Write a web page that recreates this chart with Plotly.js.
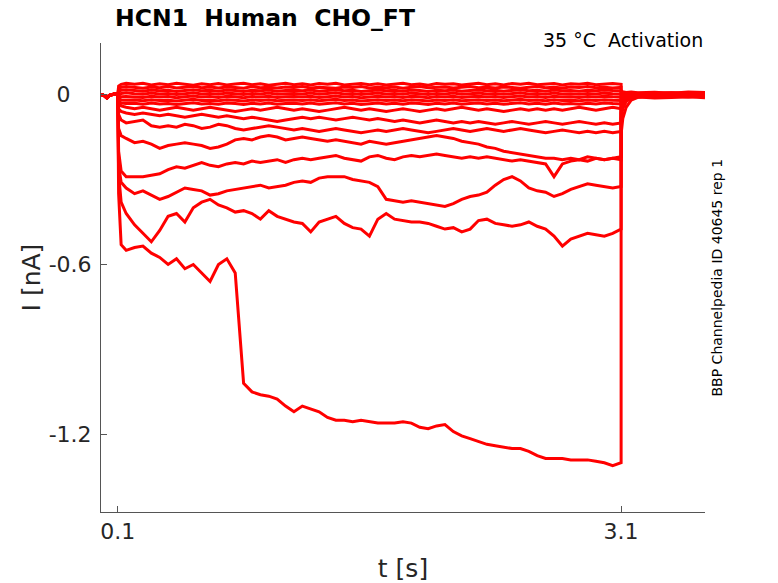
<!DOCTYPE html>
<html>
<head>
<meta charset="utf-8">
<script src="https://cdn.plot.ly/plotly-3.0.1.min.js"></script>
<style>
  html, body { margin: 0; padding: 0; background: #fff; }
  #graph { width: 778px; height: 583px; }
</style>
</head>
<body>
<div id="graph"></div>
<script>
// Time grids (s): holding before the step, the step itself, and the return
const tPre = [0, 0.02, 0.035, 0.05, 0.08, 0.1];
const tStep = [0.1, 0.105, 0.12, 0.15,
    0.2, 0.25, 0.3, 0.35, 0.4, 0.45, 0.5, 0.55, 0.6, 0.65,
    0.7, 0.75, 0.8, 0.85, 0.9, 0.95, 1.0, 1.05, 1.1, 1.15,
    1.2, 1.25, 1.3, 1.35, 1.4, 1.45, 1.5, 1.55, 1.6, 1.65,
    1.7, 1.75, 1.8, 1.85, 1.9, 1.95, 2.0, 2.05, 2.1, 2.15,
    2.2, 2.25, 2.3, 2.35, 2.4, 2.45, 2.5, 2.55, 2.6, 2.65,
    2.7, 2.75, 2.8, 2.85, 2.9, 2.95, 3.0, 3.05, 3.1];
const tPost = [3.1, 3.11, 3.13, 3.16, 3.2, 3.3, 3.4, 3.5, 3.6];

// Holding current (nA), shared by all sweeps
const iBase = [0, -0.004, -0.012, -0.003, 0.002, 0];

// Current during the step (nA), one array per sweep
const stepH1 = [0, 0.03, 0.036, 0.04,
    0.036, 0.04, 0.034, 0.038, 0.035, 0.04, 0.036, 0.033, 0.038, 0.035,
    0.039, 0.034, 0.037, 0.04, 0.035, 0.038, 0.033, 0.037, 0.04, 0.035,
    0.038, 0.034, 0.039, 0.036, 0.04, 0.034, 0.037, 0.039, 0.035, 0.038,
    0.034, 0.038, 0.04, 0.035, 0.037, 0.033, 0.039, 0.036, 0.038, 0.034,
    0.037, 0.04, 0.035, 0.038, 0.034, 0.039, 0.036, 0.04, 0.035, 0.037,
    0.039, 0.034, 0.038, 0.036, 0.04, 0.035, 0.037, 0.039, 0.036];
const stepH2 = [0, 0.02, 0.026, 0.028,
    0.025, 0.022, 0.027, 0.024, 0.028, 0.023, 0.026, 0.029, 0.024, 0.027,
    0.023, 0.027, 0.025, 0.022, 0.028, 0.024, 0.026, 0.023, 0.027, 0.025,
    0.028, 0.023, 0.026, 0.024, 0.022, 0.027, 0.025, 0.028, 0.023, 0.026,
    0.024, 0.027, 0.022, 0.026, 0.028, 0.024, 0.025, 0.027, 0.023, 0.026,
    0.028, 0.024, 0.026, 0.023, 0.027, 0.025, 0.022, 0.026, 0.028, 0.024,
    0.026, 0.023, 0.027, 0.025, 0.028, 0.024, 0.026, 0.023, 0.025];
const stepH3 = [0, 0.01, 0.015, 0.017,
    0.014, 0.012, 0.016, 0.013, 0.015, 0.011, 0.014, 0.017, 0.013, 0.015,
    0.012, 0.016, 0.014, 0.011, 0.015, 0.013, 0.016, 0.012, 0.014, 0.015,
    0.013, 0.016, 0.012, 0.014, 0.017, 0.013, 0.015, 0.011, 0.014, 0.016,
    0.013, 0.015, 0.012, 0.016, 0.014, 0.011, 0.015, 0.013, 0.016, 0.012,
    0.014, 0.016, 0.013, 0.015, 0.012, 0.014, 0.017, 0.013, 0.015, 0.012,
    0.016, 0.013, 0.014, 0.012, 0.015, 0.013, 0.016, 0.014, 0.013];
const stepH4 = [0, 0.0, 0.004, 0.006,
    0.003, 0.001, 0.005, 0.002, 0.004, 0.0, 0.003, 0.006, 0.002, 0.004,
    0.001, 0.005, 0.003, 0.0, 0.004, 0.002, 0.005, 0.001, 0.003, 0.004,
    0.002, 0.005, 0.001, 0.003, 0.006, 0.002, 0.004, 0.0, 0.003, 0.005,
    0.002, 0.004, 0.001, 0.005, 0.003, 0.0, 0.004, 0.002, 0.005, 0.001,
    0.003, 0.005, 0.002, 0.004, 0.001, 0.003, 0.006, 0.002, 0.004, 0.001,
    0.005, 0.002, 0.003, 0.001, 0.004, 0.002, 0.005, 0.003, 0.002];
const stepH5 = [0, -0.006, -0.008, -0.007,
    -0.008, -0.01, -0.006, -0.009, -0.007, -0.011, -0.008, -0.005, -0.009, -0.007,
    -0.01, -0.006, -0.008, -0.011, -0.007, -0.009, -0.006, -0.01, -0.008, -0.007,
    -0.009, -0.006, -0.01, -0.008, -0.005, -0.009, -0.007, -0.011, -0.008, -0.006,
    -0.009, -0.007, -0.01, -0.006, -0.008, -0.011, -0.007, -0.009, -0.006, -0.01,
    -0.008, -0.006, -0.009, -0.007, -0.01, -0.008, -0.005, -0.009, -0.007, -0.01,
    -0.006, -0.009, -0.008, -0.01, -0.007, -0.009, -0.006, -0.008, -0.009];
const stepH6 = [0, -0.014, -0.019, -0.02,
    -0.019, -0.022, -0.018, -0.021, -0.02, -0.023, -0.019, -0.017, -0.021, -0.02,
    -0.022, -0.018, -0.02, -0.023, -0.019, -0.021, -0.018, -0.022, -0.02, -0.019,
    -0.021, -0.018, -0.022, -0.02, -0.017, -0.021, -0.019, -0.023, -0.02, -0.018,
    -0.021, -0.019, -0.022, -0.018, -0.02, -0.023, -0.019, -0.021, -0.018, -0.022,
    -0.02, -0.018, -0.021, -0.019, -0.022, -0.02, -0.017, -0.021, -0.019, -0.022,
    -0.018, -0.021, -0.02, -0.022, -0.019, -0.021, -0.018, -0.02, -0.021];
const stepH7 = [0, -0.022, -0.03, -0.032,
    -0.031, -0.034, -0.03, -0.033, -0.032, -0.035, -0.031, -0.029, -0.033, -0.032,
    -0.034, -0.03, -0.032, -0.035, -0.031, -0.033, -0.03, -0.034, -0.032, -0.031,
    -0.033, -0.03, -0.034, -0.032, -0.029, -0.033, -0.031, -0.035, -0.032, -0.03,
    -0.033, -0.031, -0.034, -0.03, -0.032, -0.035, -0.031, -0.033, -0.03, -0.034,
    -0.032, -0.03, -0.033, -0.031, -0.034, -0.032, -0.029, -0.033, -0.031, -0.034,
    -0.03, -0.033, -0.032, -0.034, -0.031, -0.033, -0.03, -0.032, -0.033];
const stepG = [0, -0.03, -0.04, -0.045,
    -0.05, -0.045, -0.05, -0.055, -0.05, -0.045, -0.05, -0.055, -0.05, -0.045,
    -0.05, -0.055, -0.06, -0.055, -0.05, -0.055, -0.05, -0.045, -0.05, -0.055,
    -0.05, -0.055, -0.06, -0.055, -0.05, -0.045, -0.05, -0.055, -0.05, -0.055,
    -0.06, -0.055, -0.05, -0.055, -0.06, -0.055, -0.05, -0.055, -0.05, -0.045,
    -0.05, -0.055, -0.05, -0.055, -0.06, -0.055, -0.05, -0.055, -0.05, -0.055,
    -0.05, -0.055, -0.05, -0.045, -0.05, -0.055, -0.05, -0.045, -0.05];
const stepF = [0, -0.05, -0.06, -0.065,
    -0.07, -0.065, -0.07, -0.075, -0.07, -0.075, -0.08, -0.075, -0.07, -0.075,
    -0.08, -0.075, -0.08, -0.085, -0.08, -0.085, -0.09, -0.095, -0.09, -0.085,
    -0.08, -0.085, -0.08, -0.085, -0.09, -0.085, -0.08, -0.085, -0.09, -0.085,
    -0.09, -0.095, -0.09, -0.095, -0.1, -0.095, -0.09, -0.095, -0.1, -0.095,
    -0.1, -0.095, -0.1, -0.105, -0.1, -0.095, -0.1, -0.105, -0.1, -0.095,
    -0.1, -0.105, -0.1, -0.095, -0.1, -0.105, -0.1, -0.105, -0.1];
const stepE = [0, -0.07, -0.09, -0.1,
    -0.095, -0.09, -0.11, -0.115, -0.11, -0.115, -0.105, -0.11, -0.12, -0.115,
    -0.105, -0.11, -0.12, -0.125, -0.12, -0.115, -0.11, -0.115, -0.12, -0.125,
    -0.12, -0.125, -0.13, -0.125, -0.12, -0.125, -0.13, -0.135, -0.13, -0.125,
    -0.13, -0.125, -0.12, -0.125, -0.13, -0.135, -0.13, -0.125, -0.12, -0.125,
    -0.13, -0.125, -0.12, -0.125, -0.13, -0.125, -0.12, -0.125, -0.13, -0.135,
    -0.13, -0.125, -0.13, -0.135, -0.13, -0.135, -0.13, -0.135, -0.13];
const stepD = [0, -0.12, -0.145, -0.155,
    -0.17, -0.165, -0.175, -0.19, -0.18, -0.175, -0.17, -0.175, -0.18, -0.19,
    -0.185, -0.175, -0.16, -0.155, -0.16, -0.15, -0.145, -0.15, -0.16, -0.155,
    -0.15, -0.155, -0.16, -0.165, -0.16, -0.165, -0.17, -0.175, -0.165, -0.17,
    -0.175, -0.17, -0.165, -0.16, -0.155, -0.15, -0.145, -0.15, -0.155, -0.165,
    -0.17, -0.175, -0.185, -0.19, -0.2, -0.205, -0.21, -0.215, -0.22, -0.225,
    -0.225, -0.23, -0.225, -0.23, -0.22, -0.225, -0.23, -0.225, -0.22];
const stepC = [0, -0.2, -0.27, -0.29,
    -0.29, -0.29, -0.285, -0.28, -0.265, -0.255, -0.26, -0.25, -0.24, -0.25,
    -0.255, -0.245, -0.24, -0.245, -0.235, -0.24, -0.235, -0.23, -0.24, -0.23,
    -0.225, -0.23, -0.225, -0.22, -0.215, -0.225, -0.23, -0.235, -0.22, -0.215,
    -0.225, -0.23, -0.22, -0.215, -0.22, -0.215, -0.21, -0.215, -0.22, -0.225,
    -0.22, -0.225, -0.22, -0.225, -0.23, -0.235, -0.23, -0.235, -0.24, -0.245,
    -0.29, -0.245, -0.235, -0.23, -0.235, -0.225, -0.23, -0.225, -0.23];
const stepC2 = [0, -0.25, -0.31, -0.33,
    -0.35, -0.34, -0.355, -0.37, -0.36, -0.345, -0.33, -0.335, -0.34, -0.355,
    -0.35, -0.34, -0.335, -0.33, -0.325, -0.32, -0.33, -0.325, -0.32, -0.31,
    -0.305, -0.31, -0.295, -0.29, -0.29, -0.29, -0.3, -0.305, -0.31, -0.325,
    -0.37, -0.375, -0.38, -0.375, -0.38, -0.385, -0.39, -0.395, -0.385, -0.37,
    -0.36, -0.355, -0.345, -0.32, -0.3, -0.29, -0.305, -0.33, -0.34, -0.345,
    -0.36, -0.35, -0.335, -0.325, -0.315, -0.32, -0.325, -0.33, -0.325];
const stepB = [0, -0.28, -0.38, -0.42,
    -0.46, -0.49, -0.52, -0.48, -0.43, -0.42, -0.45, -0.4, -0.38, -0.37,
    -0.39, -0.4, -0.415, -0.41, -0.42, -0.44, -0.41, -0.43, -0.44, -0.45,
    -0.455, -0.485, -0.45, -0.44, -0.43, -0.455, -0.47, -0.475, -0.5, -0.44,
    -0.42, -0.44, -0.445, -0.45, -0.45, -0.455, -0.465, -0.475, -0.47, -0.485,
    -0.475, -0.445, -0.44, -0.455, -0.46, -0.465, -0.46, -0.45, -0.465, -0.475,
    -0.5, -0.535, -0.51, -0.5, -0.49, -0.495, -0.5, -0.49, -0.475];
const stepA = [0, -0.35, -0.53, -0.55,
    -0.54, -0.535, -0.56, -0.575, -0.6, -0.58, -0.615, -0.6, -0.63, -0.66,
    -0.6, -0.58, -0.63, -1.02, -1.05, -1.06, -1.065, -1.075, -1.1, -1.12,
    -1.1, -1.11, -1.12, -1.14, -1.15, -1.15, -1.155, -1.15, -1.155, -1.16,
    -1.16, -1.16, -1.155, -1.16, -1.175, -1.18, -1.17, -1.165, -1.19, -1.205,
    -1.215, -1.225, -1.235, -1.24, -1.245, -1.25, -1.25, -1.26, -1.275, -1.285,
    -1.285, -1.285, -1.29, -1.29, -1.29, -1.295, -1.3, -1.31, -1.3];

// Current after the step (nA), tail back to holding
const postH1 = [0.008, 0.01, 0.007, 0.009, 0.006, 0.008, 0.005, 0.009, 0.007];
const postH2 = [0.005, 0.006, 0.004, 0.007, 0.003, 0.005, 0.006, 0.004, 0.005];
const postH3 = [0.002, 0.003, 0.001, 0.004, 0.002, 0.0, 0.003, 0.001, 0.002];
const postH4 = [-0.001, 0.0, -0.002, 0.001, -0.003, -0.001, 0.0, -0.002, -0.001];
const postH5 = [-0.004, -0.005, -0.003, -0.006, -0.004, -0.002, -0.005, -0.003, -0.004];
const postH6 = [-0.01, -0.008, -0.007, -0.009, -0.006, -0.008, -0.007, -0.009, -0.006];
const postH7 = [-0.016, -0.012, -0.01, -0.011, -0.009, -0.012, -0.01, -0.008, -0.011];
const postG = [-0.012, -0.006, 0.0, 0.003, 0.005, 0.003, 0.006, 0.004, 0.002];
const postF = [-0.02, -0.012, -0.005, 0.0, 0.002, 0.004, 0.001, 0.003, 0.005];
const postE = [-0.03, -0.018, -0.008, -0.004, 0.0, 0.002, 0.0, 0.003, 0.001];
const postD = [-0.045, -0.028, -0.012, -0.006, -0.002, 0.001, -0.001, 0.0, 0.002];
const postC = [-0.05, -0.03, -0.015, -0.008, -0.003, 0.0, -0.002, 0.001, -0.002];
const postC2 = [-0.065, -0.04, -0.02, -0.01, -0.004, -0.002, 0.0, -0.003, -0.001];
const postB = [-0.085, -0.05, -0.025, -0.012, -0.006, -0.002, -0.004, -0.001, -0.003];
const postA = [-0.14, -0.085, -0.045, -0.02, -0.01, -0.005, -0.003, -0.006, -0.004];

const xTickVals = [0.1, 3.1];
const xTickText = ['0.1', '3.1'];
const yTickVals = [-1.2, -0.6, 0];
// the zero label sits further left in the original, padded with spaces
const yTickText = ['-1.2', '-0.6', '0\u00a0\u00a0\u00a0'];

const sweeps = [
    [stepH1, postH1], [stepH2, postH2], [stepH3, postH3], [stepH4, postH4],
    [stepH5, postH5], [stepH6, postH6], [stepH7, postH7], [stepG, postG],
    [stepF, postF], [stepE, postE], [stepD, postD], [stepC, postC],
    [stepC2, postC2], [stepB, postB], [stepA, postA]
];

const tAll = tPre.concat(tStep, tPost);

var data = sweeps.map(function(s) {
    return {
        x: tAll,
        y: iBase.concat(s[0], s[1]),
        mode: 'lines',
        type: 'scatter',
        line: {color: '#ff0000', width: 3},
        hoverinfo: 'skip'
    };
});

const axisColor = '#555555';

const layout = {
    width: 778,
    height: 583,
    margin: {l: 101, r: 73, t: 43, b: 71},
    paper_bgcolor: '#fff',
    plot_bgcolor: '#fff',
    showlegend: false,
    hovermode: false,
    font: {family: 'DejaVu Sans, sans-serif', color: '#262626'},
    title: {
        text: 'HCN1\u00a0 Human\u00a0 CHO_FT',
        font: {family: 'DejaVu Sans, sans-serif', size: 23.5, weight: 'bold', color: '#000'},
        xref: 'container',
        yref: 'container',
        x: 265 / 778,
        y: 1 - 18 / 583,
        xanchor: 'center',
        yanchor: 'middle'
    },
    xaxis: {
        range: [0, 3.6],
        tickvals: xTickVals,
        ticktext: xTickText,
        ticks: 'inside',
        ticklen: 6,
        tickcolor: axisColor,
        showline: true,
        linecolor: axisColor,
        linewidth: 1,
        showgrid: false,
        zeroline: false,
        tickfont: {size: 22, color: '#262626'},
        ticklabelstandoff: 0,
        automargin: false,
        title: {text: 't [s]', font: {size: 25, color: '#262626'}, standoff: 16}
    },
    yaxis: {
        range: [-1.474, 0.182],
        tickvals: yTickVals,
        ticktext: yTickText,
        ticks: 'inside',
        ticklen: 6,
        tickcolor: axisColor,
        showline: true,
        linecolor: axisColor,
        linewidth: 1,
        showgrid: false,
        zeroline: false,
        tickfont: {size: 22, color: '#262626'},
        ticklabelstandoff: 4,
        automargin: false,
        title: {text: 'I [nA]', font: {size: 25, color: '#262626'}, standoff: 0}
    },
    annotations: [
        {
            text: '35 °C\u00a0 Activation',
            xref: 'paper', yref: 'paper',
            x: 1, y: (512 - 40) / 469,
            xanchor: 'right', yanchor: 'middle',
            showarrow: false,
            font: {size: 19, color: '#000'}
        },
        {
            text: 'BBP Channelpedia ID 40645 rep 1',
            xref: 'paper', yref: 'paper',
            x: (716 - 101) / 604, y: 0.5,
            xanchor: 'center', yanchor: 'middle',
            textangle: -90,
            showarrow: false,
            font: {size: 14, color: '#000'}
        }
    ]
};

Plotly.newPlot('graph', data, layout, {displayModeBar: false, staticPlot: true});
</script>
</body>
</html>
